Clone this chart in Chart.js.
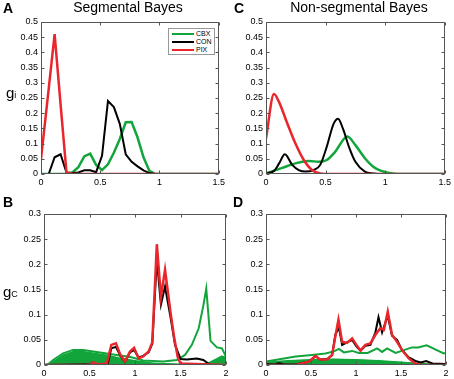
<!DOCTYPE html>
<html>
<head>
<meta charset="utf-8">
<script src="https://cdn.jsdelivr.net/npm/chart.js@4.4.1/dist/chart.umd.min.js"></script>
<style>
  body { margin: 0; background: #fff; font-family: "Liberation Sans", Arial, sans-serif; }
  #wrap { position: relative; width: 454px; height: 379px; overflow: hidden; }
  canvas { position: absolute; }
  .lbl { position: absolute; white-space: nowrap; color: #000; }
  .letter { font-weight: bold; font-size: 14px; }
  .ttl { font-size: 14px; transform: translateX(-50%); }
  .yl { font-size: 15px; }
  .yl span { font-size: 9px; }
  #leg { position: absolute; left: 168px; top: 28px; width: 45px; height: 25px; border: 1px solid #999; background: #fff; }
  #leg div { position: absolute; left: 3px; width: 22px; height: 2px; }
  #leg b { position: absolute; left: 27px; font-weight: normal; font-size: 7px; line-height: 7px; }
</style>
</head>
<body>
<div id="wrap">
  <canvas id="cA" width="228" height="192" style="left:0;top:0"></canvas>
  <canvas id="cC" width="226" height="192" style="left:228px;top:0"></canvas>
  <canvas id="cB" width="232" height="184" style="left:0;top:195px"></canvas>
  <canvas id="cD" width="226" height="184" style="left:228px;top:195px"></canvas>

  <div class="lbl letter" style="left:3px;top:0">A</div>
  <div class="lbl letter" style="left:234px;top:0">C</div>
  <div class="lbl letter" style="left:3px;top:194px">B</div>
  <div class="lbl letter" style="left:233px;top:194px">D</div>
  <div class="lbl ttl" style="left:128px;top:-1px">Segmental Bayes</div>
  <div class="lbl ttl" style="left:359px;top:-1px">Non-segmental Bayes</div>
  <div class="lbl yl" style="left:6px;top:84px">g<span>i</span></div>
  <div class="lbl yl" style="left:3px;top:283px">g<span>C</span></div>

  <div id="leg">
    <div style="top:4px;background:#12a53c"></div><b style="top:1px">CBX</b>
    <div style="top:12px;background:#000"></div><b style="top:9px">CON</b>
    <div style="top:20px;background:#e8262b"></div><b style="top:17px">PIX</b>
  </div>
</div>

<script>
const GREEN = '#12a53c';
const BLACK = '#000000';
const RED = '#e8262b';

// tick values
const giTicks = [0, 0.05, 0.1, 0.15, 0.2, 0.25, 0.3, 0.35, 0.4, 0.45, 0.5];
const gcTicks = [0, 0.05, 0.1, 0.15, 0.2, 0.25, 0.3];
const xTicksTop = [0, 0.5, 1, 1.5];
const xTicksBottom = [0, 0.5, 1, 1.5, 2];

// A: segmental, gi
const aX = [0, 0.065, 0.115, 0.165, 0.215, 0.265, 0.315, 0.365, 0.415, 0.465, 0.515, 0.565, 0.615, 0.665, 0.715, 0.765, 0.815, 0.865, 0.915, 0.965, 1.5];
const aCbx = [0, 0, 0, 0, 0, 0.005, 0.022, 0.058, 0.067, 0.03, 0.013, 0.032, 0.07, 0.115, 0.17, 0.171, 0.12, 0.055, 0.01, 0, 0];
const aCon = [0, 0, 0.055, 0.065, 0.005, 0.003, 0.005, 0.012, 0.012, 0.006, 0.06, 0.24, 0.22, 0.165, 0.065, 0.04, 0.025, 0.012, 0.003, 0, 0];
const aPix = [0.05, 0.28, 0.46, 0.23, 0.005, 0.001, 0, 0, 0, 0, 0, 0, 0, 0, 0, 0, 0, 0, 0, 0, 0];

// C: non-segmental, gi
const cCbxX = [0, 0.136, 0.247, 0.36, 0.44, 0.51, 0.58, 0.683, 0.75, 0.83, 0.9, 0.967, 1.035, 1.12, 1.5];
const cCbx = [0.002, 0.02, 0.035, 0.043, 0.04, 0.046, 0.073, 0.123, 0.095, 0.052, 0.024, 0.01, 0.003, 0, 0];
const cConX = [0, 0.067, 0.11, 0.158, 0.22, 0.275, 0.33, 0.4, 0.455, 0.51, 0.567, 0.605, 0.645, 0.7, 0.75, 0.83, 0.9, 1.0, 1.5];
const cCon = [0.002, 0.01, 0.035, 0.065, 0.03, 0.013, 0.008, 0.013, 0.03, 0.09, 0.165, 0.182, 0.15, 0.085, 0.04, 0.008, 0.002, 0, 0];
const cPixX = [0, 0.067, 0.108, 0.178, 0.247, 0.317, 0.386, 0.455, 0.55, 1.5];
const cPix = [0.117, 0.263, 0.238, 0.167, 0.1, 0.046, 0.013, 0.002, 0, 0];

// B: segmental, gc
const bFillX = [0, 0.05, 0.1, 0.21, 0.32, 0.43, 0.54, 0.69, 0.835, 1.0, 1.2, 1.5, 1.7, 1.8, 1.9, 1.95, 2.0];
const bFill = [0, 0.002, 0.009, 0.022, 0.029, 0.029, 0.026, 0.022, 0.016, 0.011, 0.006, 0.004, 0.004, 0.006, 0.015, 0.02, 0.018];
const bCbxX = [0, 0.05, 0.1, 0.21, 0.32, 0.43, 0.54, 0.69, 0.835, 0.95, 1.09, 1.31, 1.46, 1.55, 1.625, 1.7, 1.753, 1.783, 1.83, 1.9, 1.955, 2.0];
const bCbx = [0, 0.002, 0.01, 0.023, 0.03, 0.03, 0.027, 0.023, 0.019, 0.016, 0.009, 0.007, 0.01, 0.02, 0.04, 0.073, 0.12, 0.152, 0.048, 0.035, 0.033, 0.017];
const bConX = [0, 0.7, 0.74, 0.79, 0.84, 0.89, 0.945, 0.99, 1.04, 1.09, 1.15, 1.19, 1.24, 1.285, 1.33, 1.39, 1.44, 1.5, 1.57, 1.68, 1.75, 1.83, 2.0];
const bCon = [0, 0.002, 0.033, 0.036, 0.018, 0.006, 0.025, 0.03, 0.015, 0.018, 0.025, 0.042, 0.21, 0.12, 0.156, 0.095, 0.04, 0.012, 0.011, 0.013, 0.01, 0, 0];
const bPixX = [0, 0.45, 0.5, 0.54, 0.6, 0.69, 0.74, 0.79, 0.84, 0.89, 0.945, 0.99, 1.04, 1.09, 1.15, 1.19, 1.24, 1.285, 1.33, 1.39, 1.43, 1.47, 1.5, 2.0];
const bPix = [0, 0, 0.001, 0.005, 0.001, 0.003, 0.04, 0.043, 0.02, 0.007, 0.027, 0.034, 0.013, 0.017, 0.027, 0.045, 0.24, 0.135, 0.189, 0.105, 0.055, 0.015, 0.003, 0];

// D: non-segmental, gc
const dFillX = [0, 0.25, 0.5, 0.75, 1.0, 1.25, 1.5, 1.75, 2.0];
const dFill = [0.008, 0.011, 0.013, 0.014, 0.013, 0.011, 0.008, 0.005, 0.003];
const dCbxX = [0, 0.33, 0.51, 0.66, 0.755, 0.81, 0.865, 0.957, 1.03, 1.13, 1.235, 1.29, 1.345, 1.44, 1.51, 1.62, 1.69, 1.785, 1.88, 1.975, 2.0];
const dCbx = [0.007, 0.017, 0.02, 0.023, 0.027, 0.032, 0.025, 0.028, 0.024, 0.024, 0.033, 0.026, 0.033, 0.024, 0.028, 0.035, 0.035, 0.039, 0.031, 0.023, 0.024];
const dConX = [0, 0.1, 0.144, 0.2, 0.33, 0.48, 0.55, 0.6, 0.68, 0.735, 0.77, 0.81, 0.846, 0.9, 0.957, 1.005, 1.05, 1.105, 1.16, 1.216, 1.25, 1.29, 1.353, 1.4, 1.456, 1.51, 1.586, 1.66, 1.72, 1.78, 1.85, 2.0];
const dCon = [0.002, 0.001, 0.004, 0.001, 0.001, 0.007, 0.018, 0.011, 0.012, 0.02, 0.06, 0.075, 0.04, 0.045, 0.05, 0.037, 0.028, 0.038, 0.04, 0.065, 0.095, 0.065, 0.098, 0.058, 0.05, 0.03, 0.015, 0.008, 0.005, 0.008, 0.003, 0.002];
const dPixX = [0, 0.33, 0.48, 0.55, 0.6, 0.68, 0.735, 0.77, 0.805, 0.846, 0.9, 0.957, 1.005, 1.05, 1.105, 1.16, 1.216, 1.27, 1.31, 1.353, 1.4, 1.456, 1.51, 1.586, 1.66, 1.72, 2.0];
const dPix = [0, 0, 0.007, 0.018, 0.011, 0.011, 0.02, 0.056, 0.09, 0.046, 0.044, 0.053, 0.04, 0.029, 0.04, 0.043, 0.06, 0.073, 0.07, 0.106, 0.06, 0.046, 0.03, 0.013, 0.003, 0, 0];

const pts = (xs, ys) => xs.map((x, i) => ({ x: x, y: ys[i] }));

function line(xs, ys, color, width, order, tension) {
  return {
    data: pts(xs, ys), borderColor: color, borderWidth: width,
    pointRadius: 0, fill: false, order: order,
    tension: tension || 0, cubicInterpolationMode: tension ? 'monotone' : 'default'
  };
}

function area(xs, ys, order) {
  return {
    data: pts(xs, ys), borderColor: '#ffffff', borderWidth: 1,
    backgroundColor: GREEN, pointRadius: 0, fill: 'origin', order: order
  };
}

// box with inward ticks, matlab style
const boxPlugin = {
  id: 'box',
  afterDraw(chart) {
    const a = chart.chartArea, ctx = chart.ctx;
    const xs = chart.scales.x, ys = chart.scales.y;
    ctx.save();
    ctx.strokeStyle = '#555';
    ctx.lineWidth = 1;
    ctx.beginPath();
    const l = Math.round(a.left) + 0.5, r = Math.round(a.right) - 0.5;
    const t = Math.round(a.top) + 0.5, b = Math.round(a.bottom) - 0.5;
    ctx.rect(l, t, r - l, b - t);
    xs.ticks.forEach(tk => {
      const px = Math.round(xs.getPixelForValue(tk.value)) + 0.5;
      ctx.moveTo(px, b); ctx.lineTo(px, b - 3);
      ctx.moveTo(px, t); ctx.lineTo(px, t + 3);
    });
    ys.ticks.forEach(tk => {
      const py = Math.round(ys.getPixelForValue(tk.value)) + 0.5;
      ctx.moveTo(l, py); ctx.lineTo(l + 3, py);
      ctx.moveTo(r, py); ctx.lineTo(r - 3, py);
    });
    ctx.stroke();
    ctx.restore();
  }
};

function panel(id, datasets, xMax, yMax, xTicks, yTicks, yWidth, xHeight, padTop, padRight) {
  const tickFont = { family: 'Liberation Sans, Arial, sans-serif', size: 9 };
  new Chart(document.getElementById(id), {
    type: 'line',
    data: { datasets: datasets },
    options: {
      responsive: false, animation: false, devicePixelRatio: 1,
      layout: { padding: { top: padTop, right: padRight, left: 0, bottom: 0 } },
      plugins: { legend: { display: false }, tooltip: { enabled: false } },
      scales: {
        x: {
          type: 'linear', min: 0, max: xMax,
          grid: { display: false, drawTicks: false }, border: { display: false },
          afterBuildTicks: s => { s.ticks = xTicks.map(v => ({ value: v })); },
          afterFit: s => { s.height = xHeight; },
          ticks: { color: '#000', font: tickFont, padding: 3, maxRotation: 0, callback: v => String(v) }
        },
        y: {
          min: 0, max: yMax,
          grid: { display: false, drawTicks: false }, border: { display: false },
          afterBuildTicks: s => { s.ticks = yTicks.map(v => ({ value: v })); },
          afterFit: s => { s.width = yWidth; },
          ticks: { color: '#000', font: tickFont, padding: 3, callback: v => String(v) }
        }
      }
    },
    plugins: [boxPlugin]
  });
}

panel('cA', [
  line(aX, aPix, RED, 2.5, 0),
  line(aX, aCon, BLACK, 2, 1),
  line(aX, aCbx, GREEN, 2.5, 2)
], 1.5, 0.5, xTicksTop, giTicks, 41, 18, 22, 7);

panel('cC', [
  line(cPixX, cPix, RED, 2.5, 0, 0.3),
  line(cConX, cCon, BLACK, 2, 1, 0.3),
  line(cCbxX, cCbx, GREEN, 2.5, 2, 0.3)
], 1.5, 0.5, xTicksTop, giTicks, 38, 18, 22, 8);

panel('cB', [
  line(bPixX, bPix, RED, 2.5, 0),
  line(bConX, bCon, BLACK, 2, 1),
  line(bCbxX, bCbx, GREEN, 2, 2),
  area(bFillX, bFill, 3)
], 2, 0.3, xTicksBottom, gcTicks, 44, 14, 19, 6);

panel('cD', [
  line(dPixX, dPix, RED, 2.5, 0),
  line(dConX, dCon, BLACK, 2, 1),
  line(dCbxX, dCbx, GREEN, 2, 2),
  area(dFillX, dFill, 3)
], 2, 0.3, xTicksBottom, gcTicks, 38, 14, 19, 8);
</script>
</body>
</html>
